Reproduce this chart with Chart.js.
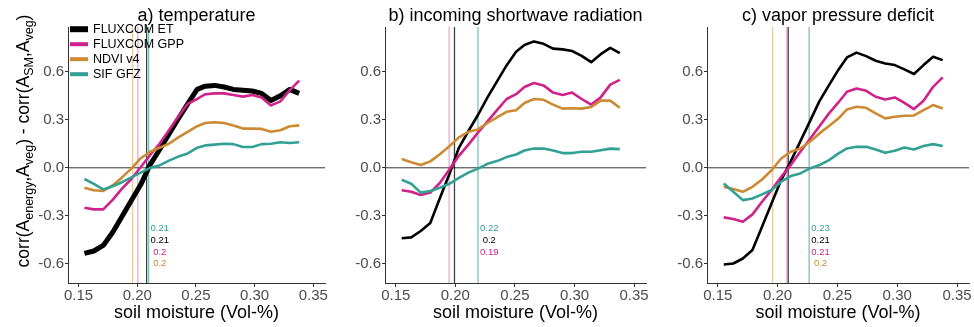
<!DOCTYPE html>
<html lang="en">
<head>
<meta charset="UTF-8">
<title>Energy vs soil moisture coupling</title>
<script src="https://cdn.jsdelivr.net/npm/chart.js"></script>
<style>
    body { margin: 0; background: #fff; }
    .wrap { position: relative; width: 974px; height: 327px; }
    .panel { position: absolute; top: 0; height: 327px; }
    canvas { display: block; }
</style>
</head>
<body>
<div class="wrap">
    <div class="panel" style="left:0;width:330px"><canvas id="chartA" width="330" height="327"></canvas></div>
    <div class="panel" style="left:330px;width:322px"><canvas id="chartB" width="322" height="327"></canvas></div>
    <div class="panel" style="left:652px;width:322px"><canvas id="chartC" width="322" height="327"></canvas></div>
</div>
<script>
// soil moisture bins (Vol-%)
const soilMoisture = [0.155, 0.163, 0.171, 0.179, 0.187, 0.195, 0.203, 0.211, 0.219, 0.227, 0.235, 0.243,
                      0.251, 0.258, 0.266, 0.274, 0.282, 0.290, 0.298, 0.306, 0.314, 0.322, 0.330, 0.338];

const seriesNames = ['FLUXCOM ET', 'FLUXCOM GPP', 'NDVI v4', 'SIF GFZ'];
const seriesColors = ['#000000', '#d0228a', '#cc8a32', '#33a094'];

// a) temperature
const tempET   = [-0.535, -0.52, -0.485, -0.405, -0.305, -0.205, -0.105, 0.02, 0.113, 0.21, 0.307, 0.40,
                  0.49, 0.51, 0.515, 0.505, 0.49, 0.485, 0.48, 0.465, 0.42, 0.45, 0.49, 0.465];
const tempGPP  = [-0.25, -0.26, -0.26, -0.20, -0.13, -0.07, 0.005, 0.08, 0.15, 0.235, 0.32, 0.40,
                  0.43, 0.46, 0.465, 0.465, 0.455, 0.445, 0.455, 0.44, 0.39, 0.415, 0.485, 0.545];
const tempNDVI = [-0.125, -0.14, -0.145, -0.11, -0.06, -0.005, 0.06, 0.10, 0.125, 0.15, 0.19, 0.225,
                  0.26, 0.28, 0.285, 0.28, 0.265, 0.245, 0.245, 0.243, 0.225, 0.235, 0.26, 0.265];
const tempSIF  = [-0.07, -0.10, -0.135, -0.115, -0.09, -0.06, -0.03, 0.0, 0.015, 0.045, 0.07, 0.09,
                  0.125, 0.14, 0.145, 0.15, 0.148, 0.13, 0.13, 0.148, 0.15, 0.16, 0.155, 0.16];

// b) incoming shortwave radiation
const swET   = [-0.44, -0.435, -0.395, -0.345, -0.19, -0.04, 0.125, 0.23, 0.33, 0.44, 0.54, 0.64,
                0.725, 0.767, 0.79, 0.775, 0.745, 0.74, 0.73, 0.70, 0.66, 0.71, 0.75, 0.717];
const swGPP  = [-0.14, -0.15, -0.17, -0.155, -0.095, -0.01, 0.075, 0.145, 0.22, 0.29, 0.36, 0.43,
                0.46, 0.505, 0.53, 0.515, 0.47, 0.455, 0.47, 0.43, 0.395, 0.44, 0.52, 0.55];
const swNDVI = [0.055, 0.035, 0.017, 0.04, 0.085, 0.135, 0.19, 0.225, 0.24, 0.28, 0.315, 0.35,
                0.36, 0.405, 0.43, 0.425, 0.395, 0.37, 0.372, 0.37, 0.38, 0.42, 0.42, 0.375];
const swSIF  = [-0.075, -0.10, -0.155, -0.145, -0.125, -0.10, -0.063, -0.03, -0.005, 0.025, 0.042, 0.067,
                0.083, 0.108, 0.12, 0.12, 0.108, 0.092, 0.092, 0.10, 0.10, 0.11, 0.12, 0.117];

// c) vapor pressure deficit
const vpdET   = [-0.604, -0.598, -0.567, -0.514, -0.369, -0.222, -0.077, 0.04, 0.165, 0.29, 0.417, 0.517,
                 0.615, 0.69, 0.72, 0.698, 0.669, 0.652, 0.642, 0.615, 0.586, 0.642, 0.694, 0.673];
const vpdGPP  = [-0.31, -0.32, -0.337, -0.291, -0.212, -0.139, -0.056, 0.017, 0.10, 0.18, 0.26, 0.34,
                 0.41, 0.475, 0.496, 0.481, 0.444, 0.427, 0.44, 0.406, 0.367, 0.419, 0.506, 0.565];
const vpdNDVI = [-0.119, -0.133, -0.15, -0.119, -0.073, -0.015, 0.058, 0.10, 0.121, 0.163, 0.215, 0.261,
                 0.309, 0.365, 0.382, 0.375, 0.34, 0.309, 0.319, 0.325, 0.327, 0.36, 0.392, 0.371];
const vpdSIF  = [-0.098, -0.15, -0.202, -0.192, -0.166, -0.139, -0.087, -0.052, -0.035, -0.004, 0.017, 0.048,
                 0.09, 0.121, 0.131, 0.131, 0.115, 0.094, 0.106, 0.127, 0.115, 0.136, 0.148, 0.136];

// zero crossings per series (ET, GPP, NDVI, SIF), null = none
const tempCross = [0.208, 0.2005, 0.196, 0.2097];
const swCross   = [0.1993, 0.1948, null, 0.219];
const vpdCross  = [0.2089, 0.2078, 0.1959, 0.2264];

const xTicks = [0.15, 0.20, 0.25, 0.30, 0.35];
const yTicks = [-0.6, -0.3, 0.0, 0.3, 0.6];

const FONT = '"Liberation Sans", Arial, sans-serif';
const fadeColors = ['rgba(0,0,0,0.75)', 'rgba(208,34,138,0.4)', 'rgba(204,138,50,0.45)', 'rgba(51,160,148,0.65)'];
const labelRow = [1, 2, 3, 0];            // SIF on top, then ET, GPP, NDVI
const labelRowY = [-0.38, -0.455, -0.528, -0.60];

function fmt(v) { return String(Number(v.toFixed(2))); }

function drawYTitle(ctx, cx, cy) {
    const parts = [['corr(A', 0], ['energy', 1], [',A', 0], ['veg', 1], [') - corr(A', 0],
                   ['SM', 1], [',A', 0], ['veg', 1], [')', 0]];
    const big = '17.5px ' + FONT, small = '12.5px ' + FONT;
    let total = 0;
    const widths = parts.map(([t, s]) => { ctx.font = s ? small : big; const w = ctx.measureText(t).width; total += w; return w; });
    ctx.save();
    ctx.translate(cx, cy);
    ctx.rotate(-Math.PI / 2);
    ctx.fillStyle = '#000';
    ctx.textBaseline = 'alphabetic';
    ctx.textAlign = 'left';
    let pos = -total / 2;
    parts.forEach(([t, s], i) => {
        ctx.font = s ? small : big;
        ctx.fillText(t, pos, s ? 4.5 : 0);
        pos += widths[i];
    });
    ctx.restore();
}

const panelDecor = {
    id: 'panelDecor',
    beforeDatasetsDraw(chart, args, opts) {
        const { ctx, chartArea: a, scales: { x, y } } = chart;
        ctx.save();
        // zero line
        const y0 = y.getPixelForValue(0);
        ctx.strokeStyle = '#333';
        ctx.lineWidth = 1;
        ctx.beginPath(); ctx.moveTo(a.left, y0); ctx.lineTo(a.right, y0); ctx.stroke();
        // threshold lines
        opts.cross.forEach((c, i) => {
            if (c == null) return;
            const px = x.getPixelForValue(c);
            ctx.strokeStyle = fadeColors[i];
            ctx.lineWidth = 1.3;
            ctx.beginPath(); ctx.moveTo(px, a.top); ctx.lineTo(px, a.bottom); ctx.stroke();
        });
        ctx.restore();
    },
    afterDraw(chart, args, opts) {
        const { ctx, chartArea: a, scales: { x, y } } = chart;
        const mid = (a.left + a.right) / 2;
        ctx.save();
        ctx.fillStyle = '#000';
        ctx.textAlign = 'center';
        ctx.textBaseline = 'alphabetic';
        ctx.font = '18px ' + FONT;
        ctx.fillText(opts.title, mid, 20.5);
        ctx.fillText('soil moisture (Vol-%)', mid, 318);

        // crossing labels
        const vals = opts.cross.filter(c => c != null);
        const lx = x.getPixelForValue(Math.max(...vals) + 0.0095);
        ctx.font = '9.5px ' + FONT;
        ctx.textBaseline = 'middle';
        opts.cross.forEach((c, i) => {
            if (c == null) return;
            ctx.fillStyle = seriesColors[i];
            ctx.fillText(fmt(c), lx, y.getPixelForValue(labelRowY[labelRow[i]]));
        });

        if (opts.legend) {
            ctx.textAlign = 'left';
            ctx.font = '12.5px ' + FONT;
            chart.data.datasets.forEach((ds, i) => {
                const ly = 29.2 + i * 15;
                ctx.strokeStyle = ds.borderColor;
                ctx.lineWidth = i === 0 ? 6 : 4;
                ctx.beginPath(); ctx.moveTo(70, ly); ctx.lineTo(88, ly); ctx.stroke();
                ctx.fillStyle = '#000';
                ctx.fillText(ds.label, 93, ly + 0.5);
            });
        }
        if (opts.yTitle) drawYTitle(ctx, 28.5, 141);
        ctx.restore();
    }
};

function makeChart(id, series, cfg) {
    return new Chart(document.getElementById(id), {
        type: 'line',
        data: {
            datasets: series.map((vals, i) => ({
                label: seriesNames[i],
                data: soilMoisture.map((sm, k) => ({ x: sm, y: vals[k] })),
                borderColor: seriesColors[i],
                borderWidth: (cfg.thickET && i === 0) ? 5 : 2.6,
                borderJoinStyle: 'round',
                pointRadius: 0,
                tension: 0,
                fill: false,
                order: 3 - i
            }))
        },
        options: {
            responsive: false,
            animation: false,
            layout: { padding: { left: cfg.padLeft, right: cfg.padRight, top: 27, bottom: 0 } },
            plugins: {
                legend: { display: false },
                tooltip: { enabled: false },
                title: { display: false },
                panelDecor: { title: cfg.title, cross: cfg.cross, legend: cfg.legend, yTitle: cfg.yTitle }
            },
            scales: {
                x: {
                    type: 'linear', min: 0.141, max: 0.36,
                    afterBuildTicks: s => { s.ticks = xTicks.map(v => ({ value: v })); },
                    afterFit: s => { s.height = 44; },
                    ticks: { callback: v => v.toFixed(2), font: { family: FONT, size: 15 }, color: '#4d4d4d',
                             padding: 0, maxRotation: 0, autoSkip: false },
                    grid: { drawOnChartArea: false, drawTicks: true, tickLength: 4, color: '#333' },
                    border: { color: '#333', width: 1 }
                },
                y: {
                    type: 'linear', min: -0.72, max: 0.88,
                    afterBuildTicks: s => { s.ticks = yTicks.map(v => ({ value: v })); },
                    afterFit: s => { s.width = 40; },
                    ticks: { callback: v => v.toFixed(1), font: { family: FONT, size: 15 }, color: '#4d4d4d', padding: 1 },
                    grid: { drawOnChartArea: false, drawTicks: true, tickLength: 3, color: '#333' },
                    border: { color: '#333', width: 1 }
                }
            }
        },
        plugins: [panelDecor]
    });
}

makeChart('chartA', [tempET, tempGPP, tempNDVI, tempSIF],
    { title: 'a) temperature', cross: tempCross, legend: true, yTitle: true, thickET: true, padLeft: 28, padRight: 5 });
makeChart('chartB', [swET, swGPP, swNDVI, swSIF],
    { title: 'b) incoming shortwave radiation', cross: swCross, legend: false, yTitle: false, thickET: false, padLeft: 15, padRight: 6 });
makeChart('chartC', [vpdET, vpdGPP, vpdNDVI, vpdSIF],
    { title: 'c) vapor pressure deficit', cross: vpdCross, legend: false, yTitle: false, thickET: false, padLeft: 15, padRight: 5 });
</script>
</body>
</html>
